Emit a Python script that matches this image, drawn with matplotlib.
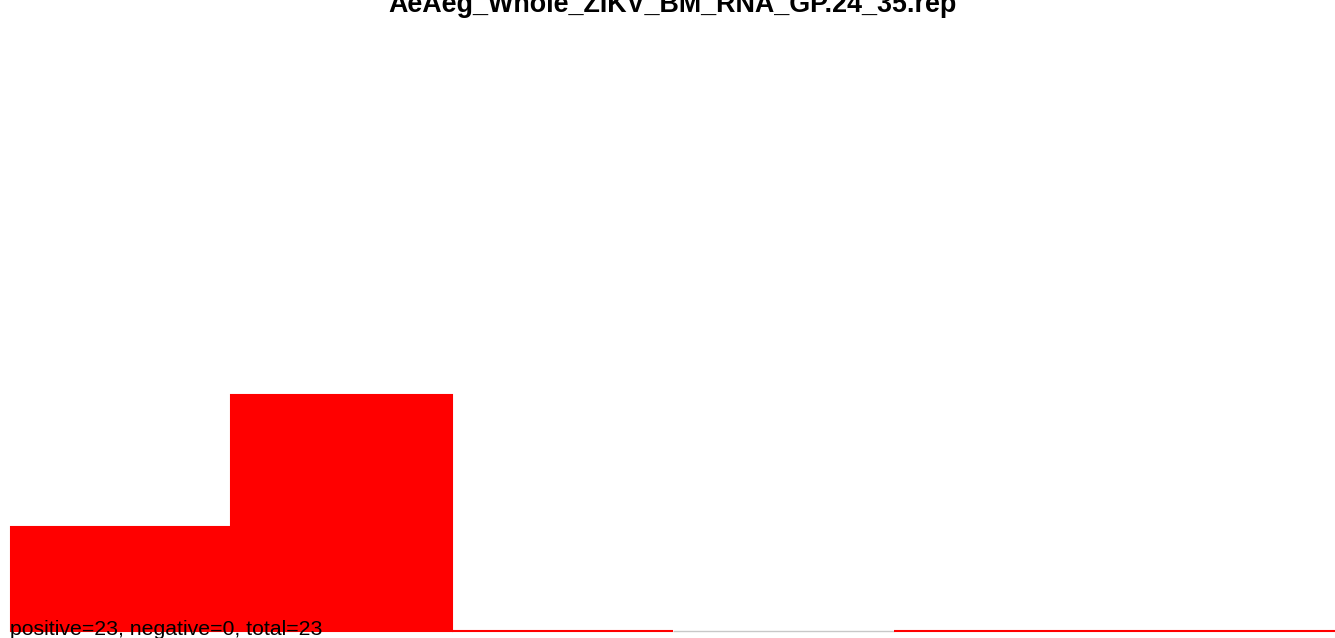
import matplotlib
matplotlib.use("Agg")
import matplotlib.pyplot as plt

title = "AeAeg_Whole_ZIKV_BM_RNA_GP.24_35.rep"
footer = "positive=23, negative=0, total=23"
categories = ["b1", "b2", "b3", "b4", "b5", "b6"]
values = [7, 16, 0, 0, 0, 0]
bar_colors = ["#ff0000", "#ff0000", "#ff0000", "#c8c8c8", "#ff0000", "#ff0000"]

W, H = 1335, 638
fig = plt.figure(figsize=(W / 100, H / 100), dpi=100)
left_px, right_px = 10.5, 1336
bottom_px, top_px = 630.5, 40
ax = fig.add_axes([left_px / W, (H - bottom_px) / H, (right_px - left_px) / W, (bottom_px - top_px) / H])
x = list(range(len(categories)))
bars = ax.bar(x, values, width=1.0, align="edge", color=bar_colors,
              edgecolor=bar_colors, linewidth=1.5)
for b, c in zip(bars, bar_colors):
    b.set_clip_on(False)
    if c != "#ff0000":
        b.set_linewidth(1.0)
ax.set_xlim(0, len(categories))
ax.set_ylim(0, 16 * (bottom_px - top_px) / 236)
ax.axis("off")

fig.text(673 / W, 1 - 12 / H, title, ha="center", va="baseline",
         fontsize=19.4, fontweight="bold", family="Liberation Sans")
fig.text(10 / W, 1 - 635 / H, footer, ha="left", va="baseline",
         fontsize=15.3, family="Liberation Sans")
fig.savefig("out.png", dpi=100)
